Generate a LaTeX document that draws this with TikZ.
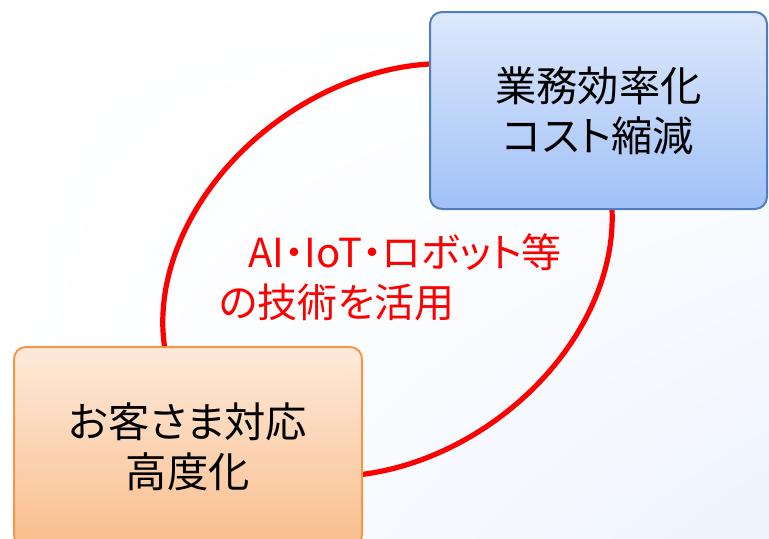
\documentclass[tikz,border=0pt]{standalone}
\usepackage{fontspec}
\setmainfont{Noto Sans CJK JP}[RawFeature=+palt]
\usetikzlibrary{positioning,shadings}
\definecolor{bgblue}{RGB}{238,244,252}
\definecolor{effline}{RGB}{79,125,189}
\definecolor{efftop}{RGB}{222,232,251}
\definecolor{effbot}{RGB}{160,193,247}
\definecolor{custline}{RGB}{247,150,70}
\definecolor{custtop}{RGB}{253,234,219}
\definecolor{custbot}{RGB}{250,190,140}

\begin{document}
\begin{tikzpicture}[x=0.75pt,y=0.75pt,
                    goal box/.style={rounded corners=9pt,line width=1.5pt,align=center,
                      font=\fontsize{31}{37.5}\selectfont},
                    tech text/.style={align=left,text=red,inner sep=0pt,
                      font=\fontsize{30}{37.5}\selectfont}]

  \useasboundingbox (0,0) rectangle (769,-539);
  \clip (0,0) rectangle (769,-539);
  \shade[upper left=white,upper right=white,lower left=white,lower right=bgblue]
    (0,0) rectangle (769,-539);

  % red ring behind the boxes
  \coordinate (ring) at (387.5,-270);
  \draw[red,line width=3.9pt,rotate around={35.7:(ring)}]
    (ring) ellipse [x radius=242.6,y radius=185.1];

  \node[goal box,draw=effline,top color=efftop,bottom color=effbot,
        minimum width=252.75pt,minimum height=147.75pt] (eff) at (598.5,-110.5)
        {業務効率化\\コスト縮減};
  \node[goal box,draw=custline,top color=custtop,bottom color=custbot,
        minimum width=261pt,minimum height=150pt] (cust) at (188,-447)
        {お客さま対応\\高度化};

  \node[tech text,anchor=west] (tech) at (219,-277)
        {\hspace*{22pt}AI・IoT・ロボット等\\の技術を活用};
\end{tikzpicture}
\end{document}
